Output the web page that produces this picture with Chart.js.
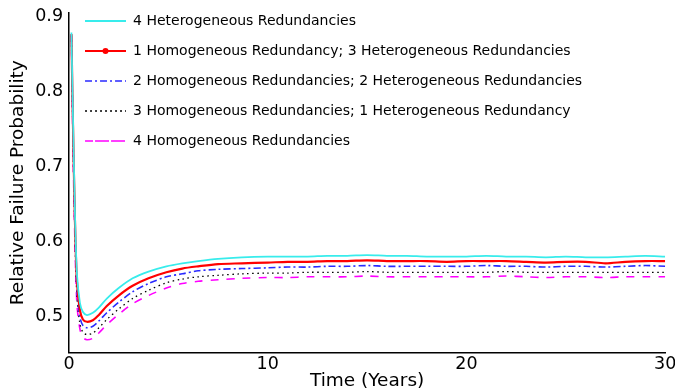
<!DOCTYPE html>
<html>
<head>
<meta charset="utf-8">
<script src="https://cdn.jsdelivr.net/npm/chart.js@4"></script>
<style>
  html, body { margin: 0; padding: 0; background: #fff; overflow: hidden; }
  #wrap { width: 680px; height: 390px; }
</style>
</head>
<body>
<div id="wrap"><canvas id="chart" width="680" height="390"></canvas></div>
<script>
// time axis (years) and the five curves
const years = [0.12, 0.2, 0.3, 0.4, 0.55, 0.7, 0.9, 1.2, 1.5, 1.9, 2.5, 3.2, 4, 4.9, 5.7, 6.5, 7.5, 8.7, 10,
  11, 12, 13, 14, 15, 16, 17, 18, 19, 20, 21, 22, 23, 24, 25, 26, 27, 28, 29, 30];

const hetero4 = [0.879, 0.765, 0.636, 0.556, 0.518, 0.506, 0.502, 0.505, 0.512, 0.524, 0.538, 0.551, 0.560, 0.567, 0.571, 0.574, 0.577, 0.579, 0.580,
  0.580, 0.580, 0.581, 0.581, 0.582, 0.581, 0.581, 0.580, 0.580, 0.580, 0.581, 0.580, 0.580, 0.579, 0.580, 0.579, 0.579, 0.580, 0.581, 0.580];
const homo1 = [0.877, 0.755, 0.626, 0.546, 0.508, 0.496, 0.493, 0.495, 0.502, 0.514, 0.528, 0.541, 0.551, 0.559, 0.564, 0.567, 0.570, 0.571, 0.572,
  0.573, 0.573, 0.574, 0.574, 0.575, 0.574, 0.574, 0.574, 0.573, 0.574, 0.574, 0.574, 0.573, 0.572, 0.573, 0.573, 0.571, 0.573, 0.574, 0.574];
const homo2 = [0.876, 0.745, 0.616, 0.536, 0.499, 0.488, 0.485, 0.487, 0.494, 0.505, 0.519, 0.533, 0.544, 0.553, 0.557, 0.561, 0.563, 0.564, 0.565,
  0.566, 0.566, 0.567, 0.567, 0.568, 0.567, 0.567, 0.567, 0.567, 0.567, 0.568, 0.567, 0.567, 0.566, 0.567, 0.567, 0.566, 0.567, 0.568, 0.567];
const homo3 = [0.875, 0.735, 0.606, 0.526, 0.490, 0.479, 0.476, 0.478, 0.485, 0.496, 0.510, 0.524, 0.535, 0.545, 0.550, 0.553, 0.555, 0.557, 0.558,
  0.558, 0.559, 0.559, 0.559, 0.560, 0.559, 0.559, 0.559, 0.559, 0.559, 0.559, 0.560, 0.559, 0.559, 0.559, 0.559, 0.559, 0.559, 0.559, 0.559];
const homo4 = [0.874, 0.725, 0.596, 0.516, 0.483, 0.472, 0.469, 0.471, 0.478, 0.489, 0.503, 0.517, 0.528, 0.538, 0.544, 0.547, 0.549, 0.551, 0.552,
  0.552, 0.553, 0.553, 0.553, 0.554, 0.553, 0.553, 0.553, 0.553, 0.553, 0.553, 0.554, 0.553, 0.552, 0.553, 0.553, 0.552, 0.553, 0.553, 0.553];

const seriesNames = [
  '4 Heterogeneous Redundancies',
  '1 Homogeneous Redundancy; 3 Heterogeneous Redundancies',
  '2 Homogeneous Redundancies; 2 Heterogeneous Redundancies',
  '3 Homogeneous Redundancies; 1 Heterogeneous Redundancy',
  '4 Homogeneous Redundancies'
];
const xTicks = [0, 10, 20, 30];
const yTicks = [0.5, 0.6, 0.7, 0.8, 0.9];

const FONT = 'DejaVu Sans';

function pts(arr) {
  return years.map((x, i) => ({ x: x, y: arr[i] }));
}

// nudge the legend up a little and put the red dot on the 2nd sample
const legendTweak = {
  id: 'legendTweak',
  afterLayout(chart) {
    const lg = chart.legend;
    if (lg) { lg.top -= 2; lg.bottom -= 2; }
  },
  afterDraw(chart) {
    const lg = chart.legend;
    if (!lg || !lg.legendHitBoxes || !lg.legendHitBoxes[1]) return;
    const hb = lg.legendHitBoxes[1];
    const ctx = chart.ctx;
    ctx.save();
    ctx.fillStyle = '#ff0000';
    ctx.beginPath();
    ctx.arc(hb.left + 20.5, hb.top + hb.height / 2, 3, 0, Math.PI * 2);
    ctx.fill();
    ctx.restore();
  }
};

new Chart(document.getElementById('chart'), {
  type: 'line',
  data: {
    datasets: [
      { label: seriesNames[0], data: pts(hetero4), borderColor: '#38ecec', backgroundColor: '#38ecec', borderWidth: 1.8 },
      { label: seriesNames[1], data: pts(homo1), borderColor: '#ff0000', backgroundColor: '#ff0000', borderWidth: 2.2 },
      { label: seriesNames[2], data: pts(homo2), borderColor: '#2a2aff', backgroundColor: '#2a2aff', borderWidth: 1.6, borderDash: [7, 3, 2, 3] },
      { label: seriesNames[3], data: pts(homo3), borderColor: '#000000', backgroundColor: '#000000', borderWidth: 1.3, borderDash: [1.5, 3.5] },
      { label: seriesNames[4], data: pts(homo4), borderColor: '#ff00ff', backgroundColor: '#ff00ff', borderWidth: 1.6, borderDash: [8, 8] }
    ]
  },
  options: {
    responsive: false,
    animation: false,
    layout: { padding: { top: 9.5, right: 0, bottom: 5.2, left: 7 } },
    elements: {
      point: { radius: 0 },
      line: { tension: 0.3 }
    },
    plugins: {
      tooltip: { enabled: false },
      legend: {
        position: 'chartArea',
        align: 'start',
        labels: {
          boxWidth: 41,
          boxHeight: 0,
          padding: 16,
          color: '#000',
          font: { family: FONT, size: 14 }
        }
      }
    },
    scales: {
      x: {
        type: 'linear',
        min: 0,
        max: 30,
        afterBuildTicks: (axis) => { axis.ticks = xTicks.map(v => ({ value: v })); },
        grid: { display: false, drawTicks: false },
        border: { display: true, color: '#000', width: 1.5 },
        ticks: { color: '#000', font: { family: FONT, size: 17.5, lineHeight: 1.0 }, padding: 3.7, maxRotation: 0 },
        title: { display: true, text: 'Time (Years)', color: '#000', font: { family: FONT, size: 18.5, lineHeight: 0.4 }, padding: { top: 0, bottom: 0 } }
      },
      y: {
        type: 'linear',
        min: 0.452,
        max: 0.905,
        afterBuildTicks: (axis) => { axis.ticks = yTicks.map(v => ({ value: v })); },
        grid: { display: false, drawTicks: false },
        border: { display: true, color: '#000', width: 1.5 },
        ticks: { color: '#000', font: { family: FONT, size: 17.5, lineHeight: 0.8 }, padding: 6 },
        title: { display: true, text: 'Relative Failure Probability', color: '#000', font: { family: FONT, size: 18.5, lineHeight: 1.2 }, padding: { top: 0, bottom: 0 } }
      }
    }
  },
  plugins: [legendTweak]
});
</script>
</body>
</html>
